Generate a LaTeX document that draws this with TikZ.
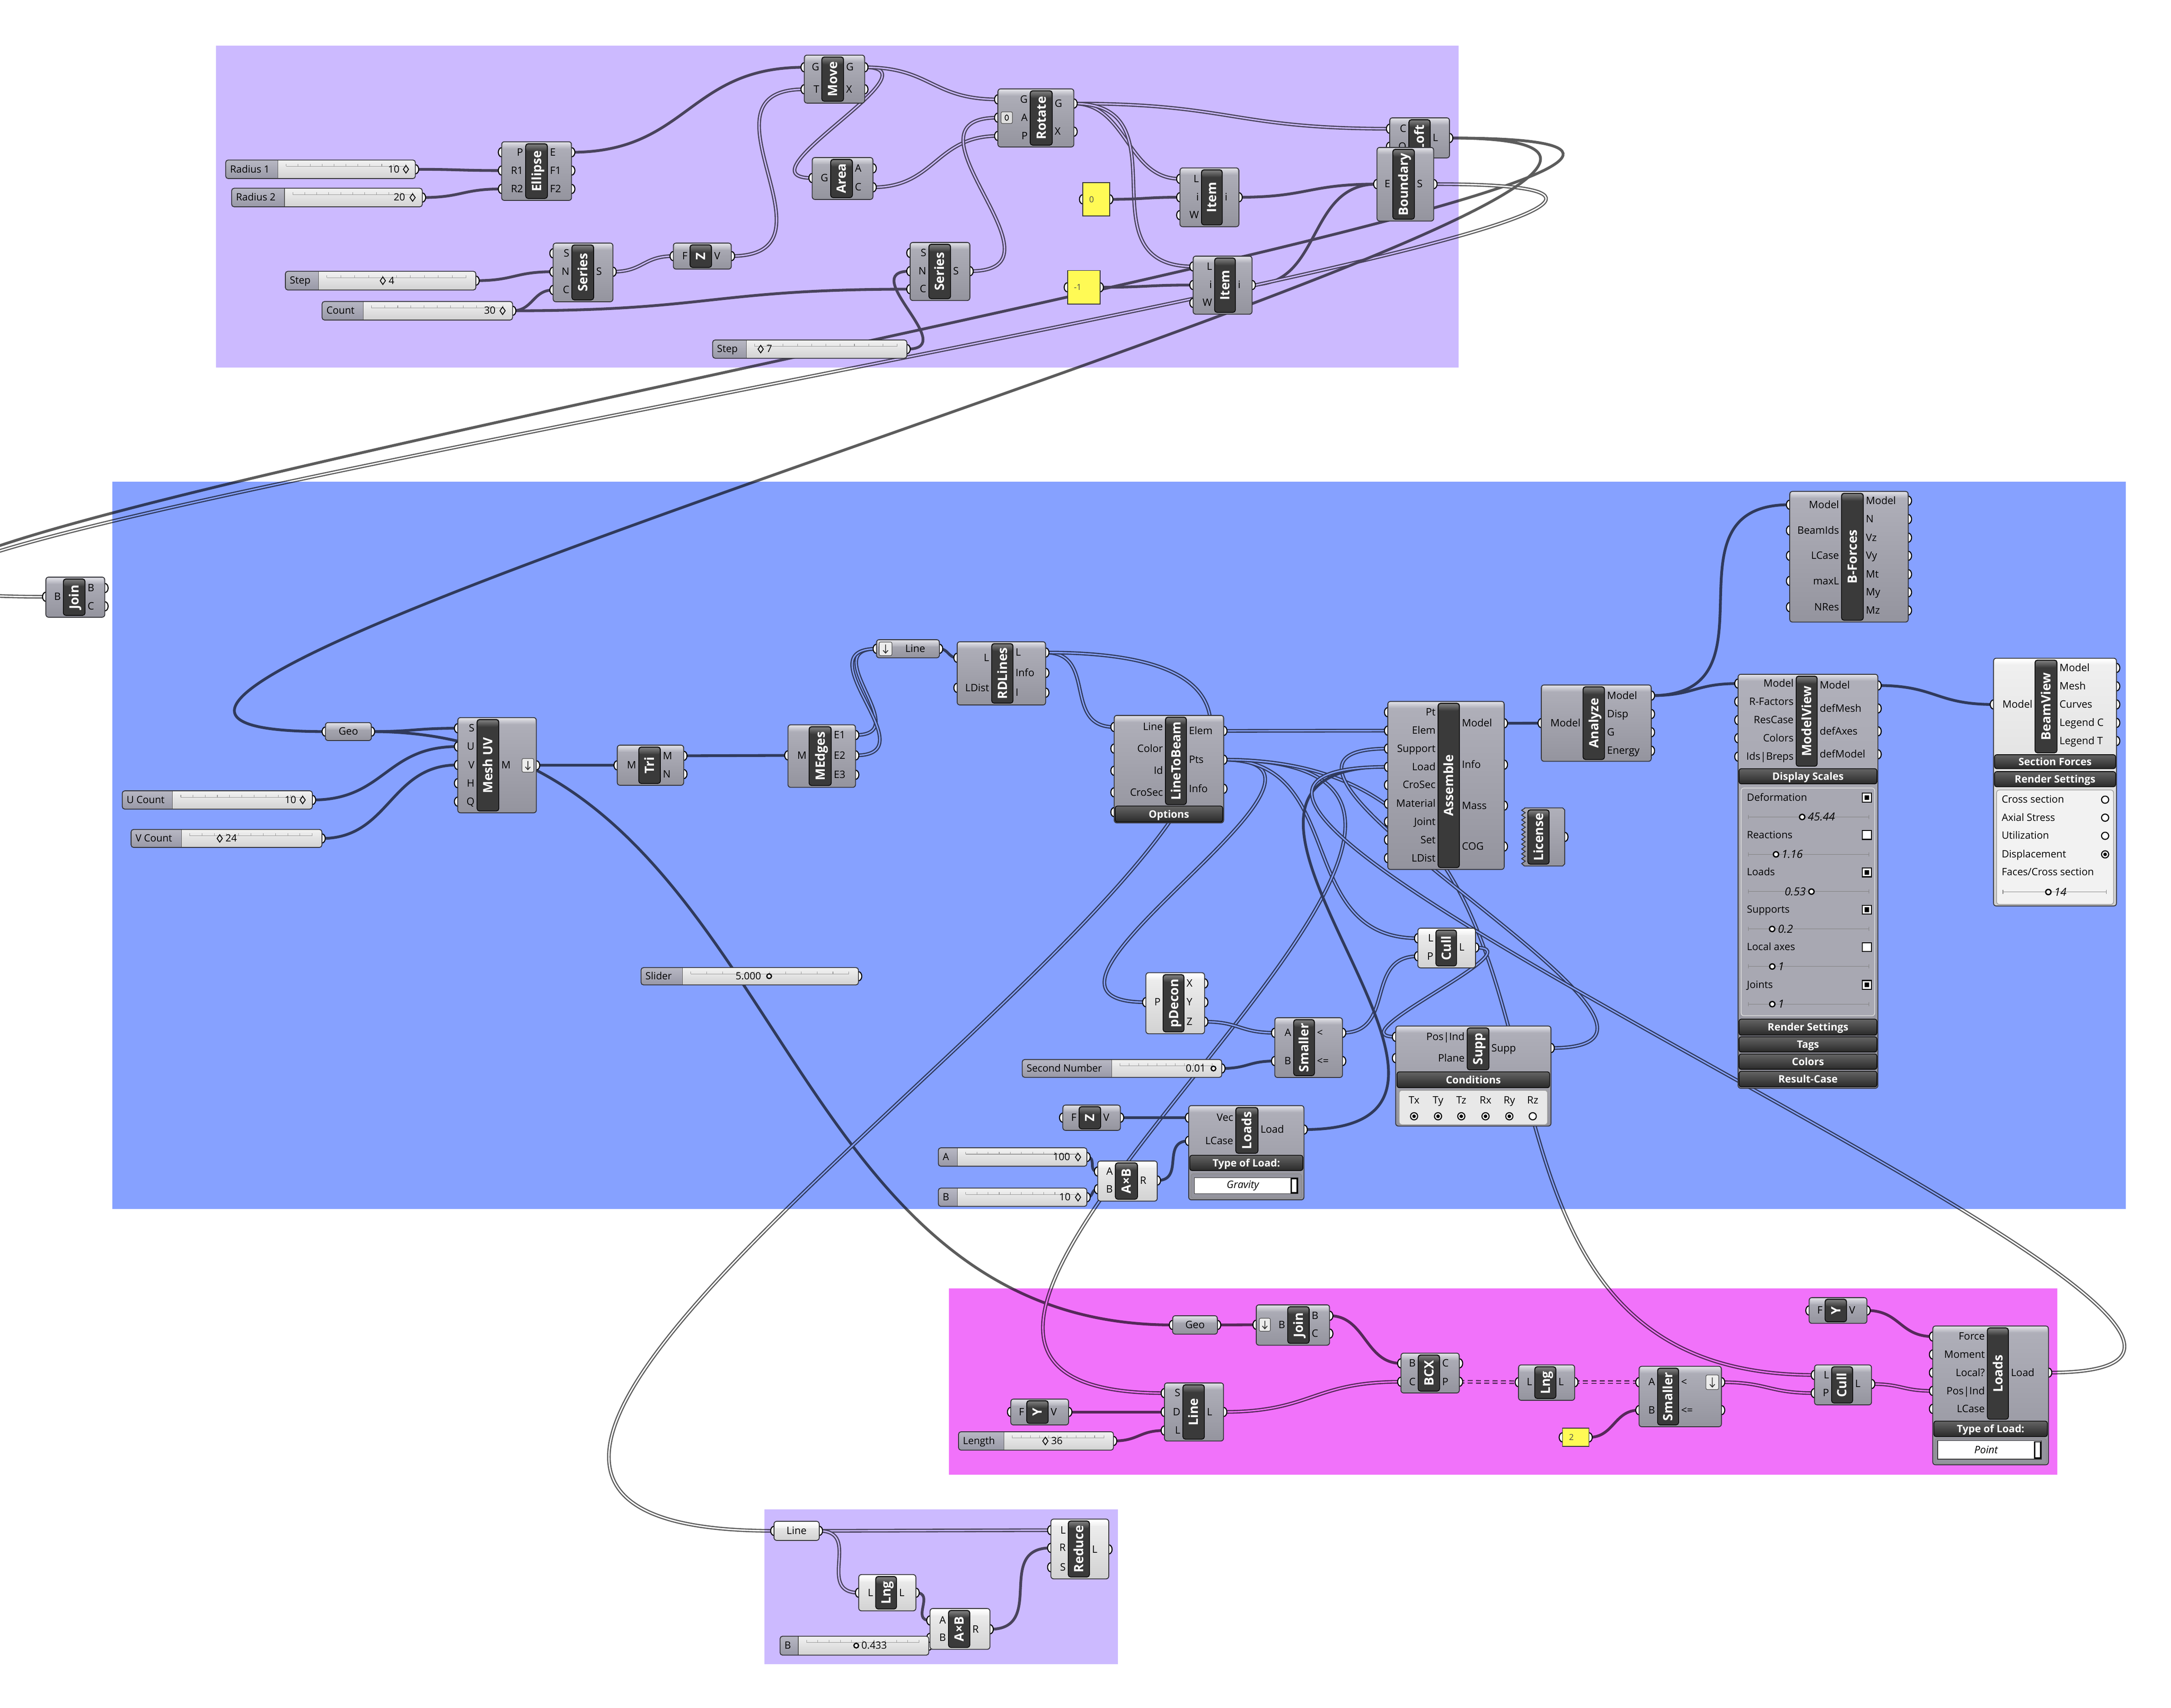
\documentclass[tikz,border=0pt]{standalone}
\usepackage{fontspec}
\setmainfont{Open Sans}
\usetikzlibrary{calc}
\pgfdeclarelayer{back}
\pgfdeclarelayer{wires}
\pgfdeclarelayer{groups}
\pgfdeclarelayer{ports}
\pgfsetlayers{back,wires,groups,ports,main}

\definecolor{grpPurple}{RGB}{204,186,255}
\definecolor{grpBlue}{RGB}{134,161,255}
\definecolor{grpPink}{RGB}{241,114,250}
\definecolor{wireC}{RGB}{92,92,92}
\definecolor{bodyHi}{RGB}{222,222,228}
\definecolor{bodyT}{RGB}{176,176,186}
\definecolor{bodyB}{RGB}{148,148,158}
\definecolor{lbodyHi}{RGB}{255,255,255}
\definecolor{lbodyT}{RGB}{240,240,240}
\definecolor{lbodyB}{RGB}{210,210,210}
\definecolor{stripT}{RGB}{125,125,125}
\definecolor{stripC}{RGB}{58,58,58}
\definecolor{barT}{RGB}{100,100,100}
\definecolor{barB}{RGB}{42,42,42}
\definecolor{edgeC}{RGB}{50,50,54}
\definecolor{slLabT}{RGB}{184,184,196}
\definecolor{slLabB}{RGB}{152,152,166}
\definecolor{slTrT}{RGB}{242,242,242}
\definecolor{slTrB}{RGB}{210,210,210}
\definecolor{panelY}{RGB}{255,250,85}
\definecolor{tickC}{RGB}{150,150,150}

\tikzset{
 plab/.style={font=\fontsize{7.4}{8}\selectfont, inner sep=0pt, text height=5.6pt, text depth=0.6pt},
 nmtxt/.style={font=\bfseries\fontsize{9.3}{10}\selectfont, text=white, inner sep=0pt, rotate=90, text height=6.7pt, text depth=0pt},
 bartxt/.style={font=\bfseries\fontsize{7.4}{8}\selectfont, text=white, inner sep=0pt, text height=5.4pt, text depth=0pt},
 sltxt/.style={font=\fontsize{7.2}{8}\selectfont, inner sep=0pt, text height=5.4pt, text depth=0.6pt},
 mvtxt/.style={font=\fontsize{7.3}{8}\selectfont, inner sep=0pt, anchor=west, text height=5.4pt, text depth=0.6pt},
 vitxt/.style={font=\itshape\fontsize{8}{8}\selectfont, inner sep=0pt, text height=5.6pt, text depth=0pt},
 wS/.style={draw=wireC, line width=2pt},
 wD/.style={draw=wireC, line width=0.85pt, double=white, double distance=0.95pt},
 wT/.style={wD, dash pattern=on 3.6pt off 2.4pt},
 bodyedge/.style={draw=edgeC, line width=0.6pt},
}

\newcommand\gbody[4]{%
  \shade[rounded corners=2pt,top color=bodyT,bottom color=bodyB] ({#1},{#2}) rectangle ({#3},{#4});%
  \shade[top color=bodyHi,bottom color=bodyT] ({#1+0.9},{#2+0.7}) rectangle ({#3-0.9},{#2+4.8});%
  \draw[bodyedge,rounded corners=2pt] ({#1},{#2}) rectangle ({#3},{#4});}
\newcommand\lbody[4]{%
  \shade[rounded corners=2pt,top color=lbodyT,bottom color=lbodyB] ({#1},{#2}) rectangle ({#3},{#4});%
  \shade[top color=lbodyHi,bottom color=lbodyT] ({#1+0.9},{#2+0.7}) rectangle ({#3-0.9},{#2+4.8});%
  \draw[bodyedge,rounded corners=2pt] ({#1},{#2}) rectangle ({#3},{#4});}
\newcommand\gstrip[5]{%
  \gdef\StripL{#1}\gdef\StripR{#3}%
  \fill[stripC,rounded corners=1.8pt] ({#1},{#2}) rectangle ({#3},{#4});%
  \shade[top color=stripT,bottom color=stripC,rounded corners=1.4pt] ({#1+0.6},{#2+0.6}) rectangle ({#3-0.6},{#2+5.5});%
  \draw[black,line width=0.5pt,rounded corners=1.8pt] ({#1},{#2}) rectangle ({#3},{#4});%
  \node[nmtxt] at ({(#1+#3)/2},{(#2+#4)/2}) {#5};}
\newcommand\pglyph[2]{\begin{pgfonlayer}{ports}\filldraw[fill=white,draw=black,line width=0.75pt] ({#1},{#2}) ellipse [x radius=2.4pt, y radius=3.3pt];\end{pgfonlayer}}
\newcommand\inp[4]{\coordinate (#1) at ({#2},{#3});\pglyph{#2}{#3}\node[plab,anchor=east] at ({\StripL-1.6},{#3}) {#4};}
\newcommand\outp[4]{\coordinate (#1) at ({#2},{#3});\pglyph{#2}{#3}\node[plab,anchor=west] at ({\StripR+1.6},{#3}) {#4};}
\newcommand\gbar[5]{%
  \shade[rounded corners=1.5pt,top color=barT,bottom color=barB] ({#1},{#2}) rectangle ({#3},{#4});%
  \draw[black,line width=0.5pt,rounded corners=1.5pt] ({#1},{#2}) rectangle ({#3},{#4});%
  \node[bartxt] at ({(#1+#3)/2},{(#2+#4)/2}) {#5};}
\newcommand\gslider[7]{%
  \begin{scope}
  \clip[rounded corners=1.8pt] ({#2},{#3}) rectangle ({#4},{#5});
  \shade[top color=slTrT,bottom color=slTrB] ({#2},{#3}) rectangle ({#4},{#5});
  \shade[top color=slLabT,bottom color=slLabB] ({#2},{#3}) rectangle ({#6},{#5});
  \end{scope}
  \draw[black!65,line width=0.4pt] ({#6},{#3}) -- ({#6},{#5});
  \draw[bodyedge,rounded corners=1.8pt] ({#2},{#3}) rectangle ({#4},{#5});
  \draw[tickC,line width=0.35pt] ({#6+6},{#3+4.6}) -- ({#4-7},{#3+4.6});
  \foreach \k in {0,...,10} \draw[tickC,line width=0.35pt] ({#6+6+\k*(#4-#6-13)/10},{#3+4.6}) -- ++(0,-1.8);
  \node[sltxt,anchor=west] at ({#2+3},{(#3+#5)/2}) {#7};
  \coordinate (#1) at ({#4},{(#3+#5)/2});
  \pglyph{#4}{(#3+#5)/2}}
\newcommand\sval[3]{\node[sltxt] at ({#1},{#2}) {#3};}
\newcommand\sdia[2]{\draw[black,line width=0.6pt] ({#1},{#2-2.7}) -- ({#1+1.9},{#2}) -- ({#1},{#2+2.7}) -- ({#1-1.9},{#2}) -- cycle;}
\newcommand\sknob[2]{\draw[black,line width=0.9pt,fill=white] ({#1},{#2}) circle (1.7pt);}
\newcommand\ypanel[6]{%
  \fill[panelY] ({#2},{#3}) rectangle ({#4},{#5});
  \draw[bodyedge] ({#2},{#3}) rectangle ({#4},{#5});
  \node[font=\fontsize{6}{6}\selectfont,inner sep=0pt,anchor=west,text=black!70] at ({#2+4.5},{(#3+#5)/2}) {#6};
  \coordinate (#1-i) at ({#2},{(#3+#5)/2});\coordinate (#1-o) at ({#4},{(#3+#5)/2});
  \pglyph{#2}{(#3+#5)/2}\pglyph{#4}{(#3+#5)/2}}
\newcommand\gparam[7]{\gbody{#2}{#3}{#4}{#5}\node[plab] at ({#7},{(#3+#5)/2}) {#6};%
  \coordinate (#1-i) at ({#2},{(#3+#5)/2});\coordinate (#1-o) at ({#4},{(#3+#5)/2});%
  \pglyph{#2}{(#3+#5)/2}\pglyph{#4}{(#3+#5)/2}}
\newcommand\lparam[7]{\lbody{#2}{#3}{#4}{#5}\node[plab] at ({#7},{(#3+#5)/2}) {#6};%
  \coordinate (#1-i) at ({#2},{(#3+#5)/2});\coordinate (#1-o) at ({#4},{(#3+#5)/2});%
  \pglyph{#2}{(#3+#5)/2}\pglyph{#4}{(#3+#5)/2}}
\newcommand\dicon[4]{\draw[fill=white!85!gray,draw=black!70,line width=0.4pt,rounded corners=1pt] ({#1},{#2}) rectangle ({#3},{#4});%
  \draw[black!80,line width=0.6pt] ({(#1+#3)/2},{#2+1.8}) -- ({(#1+#3)/2},{#4-1.8}) ({(#1+#3)/2-1.8},{#4-3.8}) -- ({(#1+#3)/2},{#4-1.8}) -- ({(#1+#3)/2+1.8},{#4-3.8});}
\newcommand\gchk[3]{\draw[black,line width=0.75pt,fill=white] ({#1-3.2},{#2-3.2}) rectangle ({#1+3.2},{#2+3.2});\ifnum#3=1 \fill[black] ({#1-1.7},{#2-1.7}) rectangle ({#1+1.7},{#2+1.7});\fi}
\newcommand\gradio[3]{\draw[black,line width=0.75pt,fill=white] ({#1},{#2}) circle (2.6pt);\ifnum#3=1 \fill[black] ({#1},{#2}) circle (1.3pt);\fi}
\newcommand\msl[4]{\draw[black!50,line width=0.4pt] ({#1},{#3}) -- ({#2},{#3}) ({#1},{#3-1.5}) -- ({#1},{#3+1.5}) ({#2},{#3-1.5}) -- ({#2},{#3+1.5});%
  \draw[black,line width=0.95pt,fill=white] ({#4},{#3}) circle (1.9pt);}
\newcommand\ddown[5]{\draw[fill=white,draw=black!80,line width=0.5pt] ({#1},{#2}) rectangle ({#3},{#4});%
  \draw[fill=white,draw=black,line width=0.8pt] ({#3-5},{#2+0.8}) rectangle ({#3-0.7},{#4-0.8});%
  \node[font=\itshape\fontsize{7.4}{8}\selectfont,inner sep=0pt] at ({(#1+#3-5)/2},{(#2+#4)/2}) {#5};}
\def\autostr{auto}
\newcommand\wire[4][auto]{\def\wtmp{#1}\ifx\wtmp\autostr
  \draw[#2] let \p1=(#3), \p2=(#4), \n1={max(0.5*abs(\x2-\x1),0.7*abs(\y2-\y1),5)} in (\p1) .. controls +(\n1,0) and +(-\n1,0) .. (\p2);%
  \else\draw[#2] (#3) .. controls +(#1,0) and +(-#1,0) .. (#4);\fi}

\begin{document}
\begin{tikzpicture}[x=1pt,y=-1pt]
\begin{pgfonlayer}{back}\fill[white] (0,0) rectangle (1568,1233.6);\end{pgfonlayer}
\useasboundingbox (0,0) rectangle (1568,1233.6);

% ================= TOP GROUP =================
\gslider{r1}{163}{115.6}{300}{129}{200.7}{Radius 1}
\sval{284.4}{122.3}{10}\sdia{293.2}{122.3}
\gslider{r2}{167.3}{136}{305}{149.4}{205.5}{Radius 2}
\sval{288.5}{142.7}{20}\sdia{298}{142.7}

\gbody{362.3}{102.4}{412.8}{144.8}
\gstrip{379.6}{103.8}{395.4}{143.4}{Ellipse}
\inp{ell-iP}{362.3}{110}{P}\inp{ell-iR1}{362.3}{123.2}{R1}\inp{ell-iR2}{362.3}{136.5}{R2}
\outp{ell-oE}{412.8}{110}{E}\outp{ell-oF1}{412.8}{123.2}{F1}\outp{ell-oF2}{412.8}{136.5}{F2}

\gbody{580.9}{39.8}{624.5}{74.5}
\gstrip{593.5}{41.1}{609.3}{73.2}{Move}
\inp{mov-iG}{580.9}{48.6}{G}\inp{mov-iT}{580.9}{64.5}{T}
\outp{mov-oG}{624.5}{48.6}{G}\outp{mov-oX}{624.5}{64.5}{X}

\gbody{586.6}{113.8}{630.5}{144.1}
\gstrip{599.9}{115.1}{615.7}{142.8}{Area}
\inp{area-iG}{586.6}{128.6}{G}
\outp{area-oA}{630.5}{121.6}{A}\outp{area-oC}{630.5}{135.3}{C}

\gbody{720.7}{64.2}{775.6}{106.2}
\gstrip{744}{65.5}{760}{104.9}{Rotate}
\inp{rot-iG}{720.7}{71.8}{G}\inp{rot-iA}{720.7}{85}{A}\inp{rot-iP}{720.7}{98.2}{P}
\outp{rot-oG}{775.6}{74.8}{G}\outp{rot-oX}{775.6}{95.1}{X}
\draw[fill=gray!25,draw=black!70,rounded corners=1pt,line width=0.4pt] (723,80.8) rectangle (731.2,89.2);
\draw[line width=0.5pt] (727.1,85) ellipse [x radius=1.2pt, y radius=2pt];

\gbody{399.5}{175.6}{442.7}{218}
\gstrip{413}{176.9}{428.8}{216.7}{Series}
\inp{serL-iS}{399.5}{183}{S}\inp{serL-iN}{399.5}{196.3}{N}\inp{serL-iC}{399.5}{209.5}{C}
\outp{serL-oS}{442.7}{196.3}{S}

\gbody{486.3}{175.6}{528.2}{194.4}
\gstrip{498.3}{176.8}{514}{193.2}{Z}
\inp{zt-iF}{486.3}{185}{F}\outp{zt-oV}{528.2}{185}{V}

\gslider{st4}{206.1}{196}{343.7}{209.5}{230.1}{Step}
\sdia{276.5}{202.8}\node[sltxt,anchor=west] at (280.5,202.8) {4};
\gslider{cnt}{232.6}{217.8}{370.2}{231.2}{262.3}{Count}
\sval{353.8}{224.5}{30}\sdia{363}{224.5}

\gbody{657.3}{175.1}{700.5}{217.1}
\gstrip{670.8}{176.4}{686.6}{215.8}{Series}
\inp{serR-iS}{657.3}{182.7}{S}\inp{serR-iN}{657.3}{195.9}{N}\inp{serR-iC}{657.3}{208.9}{C}
\outp{serR-oS}{700.5}{195.9}{S}

\gslider{st7}{514.7}{245.6}{655}{258.8}{539}{Step}
\sdia{549.4}{252.2}\node[sltxt,anchor=west] at (553.4,252.2) {7};

\ypanel{p0}{782}{132}{801.4}{156}{0}
\ypanel{pm1}{771}{195.4}{794.5}{219.7}{-1}

\gbody{852.2}{121.3}{894.8}{163.8}
\gstrip{867.7}{122.6}{882.8}{162.5}{Item}
\inp{itT-iL}{852.2}{129.2}{L}\inp{itT-ii}{852.2}{142.5}{i}\inp{itT-iW}{852.2}{155.4}{W}
\outp{itT-oi}{894.8}{142.5}{i}
\gbody{861.7}{185}{904.3}{227}
\gstrip{877.2}{186.3}{892.3}{225.7}{Item}
\inp{itB-iL}{861.7}{192.5}{L}\inp{itB-ii}{861.7}{205.9}{i}\inp{itB-iW}{861.7}{218.8}{W}
\outp{itB-oi}{904.3}{205.9}{i}

\gbody{1003.7}{85.1}{1046.9}{114.1}
\gstrip{1017.5}{86.4}{1033}{112.8}{Loft}
\inp{loft-iC}{1003.7}{93}{C}\inp{loft-iO}{1003.7}{106}{O}
\outp{loft-oL}{1046.9}{99.7}{L}
\gbody{994.5}{106.5}{1035.5}{159.7}
\gstrip{1005.9}{107.8}{1021.6}{158.4}{Boundary}
\inp{bnd-iE}{994.5}{133}{E}\outp{bnd-oS}{1035.5}{133}{S}

% ================= BLUE GROUP =================
\gbody{33.1}{416.9}{75.7}{445.9}
\gstrip{45.7}{418.2}{61.5}{444.6}{Join}
\inp{join-iB}{33.1}{431.1}{B}
\outp{join-oB}{75.7}{424.8}{B}\outp{join-oC}{75.7}{438}{C}

\gparam{geo}{235}{522}{268.2}{535}{Geo}{251.6}

\gbody{330.6}{518.4}{387.4}{587.2}
\gstrip{344.5}{519.7}{360.3}{585.9}{Mesh UV}
\inp{msh-iS}{330.6}{526.1}{S}\inp{msh-iU}{330.6}{539.3}{U}\inp{msh-iV}{330.6}{552.6}{V}\inp{msh-iH}{330.6}{565.8}{H}\inp{msh-iQ}{330.6}{579.1}{Q}
\outp{msh-oM}{387.4}{552.9}{M}
\dicon{377}{548}{385.5}{557.8}

\gslider{uc}{88.3}{571.3}{225.6}{584.5}{124.6}{U Count}
\sval{209.8}{577.9}{10}\sdia{218.6}{577.9}
\gslider{vc}{94.7}{599.2}{232.5}{612.2}{131}{V Count}
\sdia{158.7}{605.7}\node[sltxt,anchor=west] at (162.7,605.7) {24};

\gbody{445.8}{538.3}{493.8}{567.3}
\gstrip{461.3}{539.6}{477}{566}{Tri}
\inp{tri-iM}{445.8}{552.9}{M}
\outp{tri-oM}{493.8}{546}{M}\outp{tri-oN}{493.8}{559.2}{N}

\gbody{569.1}{523.6}{617.9}{568.8}
\gstrip{584.3}{524.9}{600.4}{567.5}{MEdges}
\inp{med-iM}{569.1}{545.7}{M}
\outp{med-oE1}{617.9}{531}{E1}\outp{med-oE2}{617.9}{545.7}{E2}\outp{med-oE3}{617.9}{559.7}{E3}

\gbody{633}{462.1}{678.5}{475.2}
\dicon{635}{463.8}{644.2}{473.6}
\node[plab] at (661,468.7) {Line};
\coordinate (lnp-i) at (633,468.7);\coordinate (lnp-o) at (678.5,468.7);
\pglyph{633}{468.7}\pglyph{678.5}{468.7}

\gbody{691.3}{463.6}{755.2}{509.3}
\gstrip{716.2}{464.9}{731.7}{508}{RDLines}
\inp{rdl-iL}{691.3}{475.2}{L}\inp{rdl-iLD}{691.3}{496.9}{LDist}
\outp{rdl-oL}{755.2}{471.4}{L}\outp{rdl-oInfo}{755.2}{486.1}{Info}\outp{rdl-oI}{755.2}{500.4}{I}

\gbody{804.7}{516.8}{883.8}{594.5}
\gstrip{841.7}{518}{856.9}{581.3}{LineToBeam}
\gbar{805.4}{582.3}{883.1}{593.9}{Options}
\inp{ltb-iLine}{804.7}{525.2}{Line}\inp{ltb-iColor}{804.7}{540.8}{Color}\inp{ltb-iId}{804.7}{556.8}{Id}\inp{ltb-iCro}{804.7}{572.4}{CroSec}\inp{ltb-iOpt}{804.7}{586.7}{}
\outp{ltb-oElem}{883.8}{528}{Elem}\outp{ltb-oPts}{883.8}{548.8}{Pts}\outp{ltb-oInfo}{883.8}{569.8}{Info}

\gbody{1002.3}{506.7}{1086.4}{628.1}
\gstrip{1038.6}{508}{1054.1}{626.8}{Assemble}
\inp{asm-iPt}{1002.3}{514.5}{Pt}\inp{asm-iElem}{1002.3}{527.8}{Elem}\inp{asm-iSup}{1002.3}{540.8}{Support}\inp{asm-iLoad}{1002.3}{554}{Load}\inp{asm-iCro}{1002.3}{567.1}{CroSec}\inp{asm-iMat}{1002.3}{580.6}{Material}\inp{asm-iJoint}{1002.3}{593.6}{Joint}\inp{asm-iSet}{1002.3}{606.7}{Set}\inp{asm-iLD}{1002.3}{619.9}{LDist}
\outp{asm-oModel}{1086.4}{522.5}{Model}\outp{asm-oInfo}{1086.4}{552.4}{Info}\outp{asm-oMass}{1086.4}{582}{Mass}\outp{asm-oCOG}{1086.4}{611.5}{COG}

\gbody{1113.2}{494.8}{1192.6}{550}
\gstrip{1143.3}{496.1}{1158.9}{548.7}{Analyze}
\inp{anl-iM}{1113.2}{522.4}{Model}
\outp{anl-oModel}{1192.6}{502.5}{Model}\outp{anl-oDisp}{1192.6}{515.8}{Disp}\outp{anl-oG}{1192.6}{529}{G}\outp{anl-oE}{1192.6}{542.3}{Energy}

\shadedraw[top color=bodyT,bottom color=bodyB,draw=edgeC,line width=0.6pt] (1101,583.6) -- (1128.6,583.6) -- (1130.1,585.1) -- (1130.1,624.1) -- (1128.6,625.6) -- (1101,625.6) \foreach \j in {0,...,11} { -- (1099,{625.6-\j*3.5-1.75}) -- (1101.6,{625.6-(\j+1)*3.5}) } -- cycle;
\gstrip{1103.4}{585}{1118.9}{624.3}{License}
\pglyph{1130.1}{604.6}

\gbody{1292.6}{355}{1378.2}{449.4}
\gstrip{1330}{356.3}{1345.8}{448.1}{B-Forces}
\inp{bf-iModel}{1292.6}{364.6}{Model}\inp{bf-iB}{1292.6}{383.2}{BeamIds}\inp{bf-iL}{1292.6}{401.5}{LCase}\inp{bf-iM}{1292.6}{419.7}{maxL}\inp{bf-iN}{1292.6}{438.6}{NRes}
\outp{bf-oModel}{1378.2}{361.7}{Model}\outp{bf-oN}{1378.2}{375}{N}\outp{bf-oVz}{1378.2}{388.4}{Vz}\outp{bf-oVy}{1378.2}{401.5}{Vy}\outp{bf-oMt}{1378.2}{414.8}{Mt}\outp{bf-oMy}{1378.2}{427.9}{My}\outp{bf-oMz}{1378.2}{441}{Mz}

\gbody{1255.3}{487.1}{1356.3}{786.2}
\gstrip{1297.2}{488.4}{1312.5}{553.6}{ModelView}
\gbar{1256}{555.3}{1355.6}{566.3}{Display Scales}
\draw[white!70!gray,line width=0.6pt,rounded corners=2pt,fill=bodyT!70!bodyB] (1257.5,569.3) rectangle (1354,733.8);
\gbar{1256}{736.2}{1355.6}{747.8}{Render Settings}
\gbar{1256}{749}{1355.6}{760}{Tags}
\gbar{1256}{761.4}{1355.6}{772.5}{Colors}
\gbar{1256}{773.9}{1355.6}{785.2}{Result-Case}
\inp{mv-iModel}{1255.3}{493.8}{Model}\inp{mv-iR}{1255.3}{506.8}{R-Factors}\inp{mv-iRC}{1255.3}{520.2}{ResCase}\inp{mv-iC}{1255.3}{533.3}{Colors}\inp{mv-iI}{1255.3}{546.6}{Ids|Breps}
\outp{mv-oModel}{1356.3}{495.2}{Model}\outp{mv-oM}{1356.3}{511.8}{defMesh}\outp{mv-oA}{1356.3}{528.3}{defAxes}\outp{mv-oD}{1356.3}{544.9}{defModel}
\node[mvtxt] at (1261.5,576.2) {Deformation}; \gchk{1348.3}{576.2}{1}
\msl{1262.7}{1349.8}{590.2}{1301.6}\node[vitxt,anchor=west] at (1305.5,590.2) {45.44};
\node[mvtxt] at (1261.5,603.2) {Reactions}; \gchk{1348.3}{603.2}{0}
\msl{1262.7}{1349.8}{617.2}{1282.7}\node[vitxt,anchor=west] at (1286.6,617.2) {1.16};
\node[mvtxt] at (1261.5,630.2) {Loads}; \gchk{1348.3}{630.2}{1}
\msl{1262.7}{1349.8}{644.1}{1308.3}\node[vitxt,anchor=east] at (1304.4,644.1) {0.53};
\node[mvtxt] at (1261.5,657.2) {Supports}; \gchk{1348.3}{657.2}{1}
\msl{1262.7}{1349.8}{671.1}{1279.9}\node[vitxt,anchor=west] at (1283.9,671.1) {0.2};
\node[mvtxt] at (1261.5,684.2) {Local axes}; \gchk{1348.3}{684.2}{0}
\msl{1262.7}{1349.8}{698.2}{1280}\node[vitxt,anchor=west] at (1284,698.2) {1};
\node[mvtxt] at (1261.5,711.5) {Joints}; \gchk{1348.3}{711.5}{1}
\msl{1262.7}{1349.8}{725.4}{1280}\node[vitxt,anchor=west] at (1284,725.4) {1};

\lbody{1439.8}{475.5}{1528.6}{654.5}
\gstrip{1469.7}{476.8}{1485.7}{543.9}{BeamView}
\gbar{1440.5}{545.2}{1528}{555.3}{Section Forces}
\gbar{1440.5}{557.4}{1528}{568.4}{Render Settings}
\draw[gray!70,line width=0.6pt,rounded corners=2pt,fill=white!90!gray] (1442,570.7) rectangle (1526.5,653.4);
\inp{bv-iModel}{1439.8}{508.9}{Model}
\outp{bv-oModel}{1528.6}{482.5}{Model}\outp{bv-oMesh}{1528.6}{495.8}{Mesh}\outp{bv-oC}{1528.6}{508.9}{Curves}\outp{bv-oLC}{1528.6}{522.2}{Legend C}\outp{bv-oLT}{1528.6}{535.3}{Legend T}
\node[mvtxt] at (1445.5,577.7) {Cross section}; \gradio{1520.4}{577.7}{0}
\node[mvtxt] at (1445.5,590.7) {Axial Stress}; \gradio{1520.4}{590.7}{0}
\node[mvtxt] at (1445.5,603.8) {Utilization}; \gradio{1520.4}{603.8}{0}
\node[mvtxt] at (1445.5,617.2) {Displacement}; \gradio{1520.4}{617.2}{1}
\node[mvtxt] at (1445.5,630.2) {Faces/Cross section};
\msl{1446.6}{1521.3}{644.4}{1479.4}\node[vitxt,anchor=west] at (1483.5,644.4) {14};

\lbody{1024}{670.5}{1065.7}{699.2}
\gstrip{1037}{671.8}{1052}{697.9}{Cull}
\inp{cul-iL}{1024}{677.8}{L}\inp{cul-iP}{1024}{690.8}{P}\outp{cul-oL}{1065.7}{684.5}{L}

\lbody{827.6}{702.7}{870}{746.8}
\gstrip{840}{704}{855.2}{745.5}{pDecon}
\inp{pdc-iP}{827.6}{724}{P}
\outp{pdc-oX}{870}{710.4}{X}\outp{pdc-oY}{870}{724}{Y}\outp{pdc-oZ}{870}{738.1}{Z}

\gbody{920.7}{735.2}{969.6}{778.4}
\gstrip{934.3}{736.5}{949.4}{777.1}{Smaller}
\inp{sml-iA}{920.7}{746.1}{A}\inp{sml-iB}{920.7}{766.5}{B}
\outp{sml-oLT}{969.6}{746.1}{<}\outp{sml-oLE}{969.6}{766.5}{<=}

\gslider{sn}{738.3}{765.4}{882.4}{778.3}{803}{Second Number}
\sval{863.6}{771.9}{0.01}\sknob{876.4}{771.9}

\gbody{1008}{741.2}{1120.2}{813.5}
\gstrip{1059.6}{742.5}{1075.4}{772.9}{Supp}
\gbar{1009}{774.3}{1119.2}{785.8}{Conditions}
\draw[gray!75,line width=0.6pt,rounded corners=2pt,fill=white!82!gray] (1010.5,787.6) rectangle (1117.7,812.5);
\inp{supp-iPos}{1008}{749}{Pos|Ind}\inp{supp-iPl}{1008}{764.4}{Plane}
\outp{supp-oS}{1120.2}{757.1}{Supp}
\foreach \xx/\tt/\ff in {1021.3/Tx/1,1038.6/Ty/1,1055.4/Tz/1,1072.9/Rx/1,1090.1/Ry/1,1107/Rz/0}{
  \node[plab] at (\xx,794.7) {\tt};
  \gradio{\xx}{806.4}{\ff}}

\gslider{sl5}{463}{699}{620}{711.5}{493}{Slider}
\sval{540.5}{705.2}{5.000}\sknob{555.5}{705.2}

\gbody{767.6}{798.3}{809.2}{816.6}
\gstrip{779.3}{799.4}{795}{815.5}{Z}
\inp{zb-iF}{767.6}{807.4}{F}\outp{zb-oV}{809.2}{807.4}{V}

\gbody{858.5}{798.7}{941.8}{866.8}
\gstrip{892.5}{800}{908.6}{833.2}{Loads}
\gbar{859.3}{834.6}{941}{845.6}{Type of Load:}
\draw[fill=bodyB,draw=black!45,line width=0.5pt,rounded corners=1.5pt] (860.3,847.9) rectangle (940,865.6);
\ddown{862.6}{850.7}{937.6}{862.4}{Gravity}
\inp{lds-iVec}{858.5}{807.4}{Vec}\inp{lds-iLC}{858.5}{824.2}{LCase}
\outp{lds-oL}{941.8}{816}{Load}

\gslider{sa}{677.7}{829.2}{785}{842.5}{691.5}{A}
\sval{766.7}{835.9}{100}\sdia{778.6}{835.9}
\gslider{sb}{677.7}{858.3}{785}{871.5}{691.5}{B}
\sval{769.1}{864.9}{10}\sdia{778.6}{864.9}

\lbody{792.8}{838.7}{835.8}{867.7}
\gstrip{805.5}{840}{821.6}{866.4}{A×B}
\inp{axb-iA}{792.8}{846.3}{A}\inp{axb-iB}{792.8}{859.1}{B}\outp{axb-oR}{835.8}{852.8}{R}

% ================= PINK GROUP =================
\gparam{pgeo}{846.9}{950.5}{879.3}{963.8}{Geo}{863.1}

\gbody{907.3}{942.6}{960.3}{971.8}
\gstrip{930}{943.9}{945.6}{970.5}{Join}
\dicon{909.5}{952.3}{917.5}{961.7}
\inp{pj-iB}{907.3}{957}{B}
\outp{pj-oB}{960.3}{950.5}{B}\outp{pj-oC}{960.3}{963.4}{C}

\gbody{1011.8}{977.5}{1054}{1006.3}
\gstrip{1024.2}{978.8}{1039.8}{1005}{BCX}
\inp{bcx-iB}{1011.8}{984.9}{B}\inp{bcx-iC}{1011.8}{998.2}{C}
\outp{bcx-oC}{1054}{984.9}{C}\outp{bcx-oP}{1054}{998.2}{P}

\gbody{1096.7}{986}{1137.3}{1011.6}
\gstrip{1108.4}{987.3}{1123.8}{1010.3}{Lng}
\inp{lng-iL}{1096.7}{998.5}{L}\outp{lng-oL}{1137.3}{998.5}{L}

\gbody{730}{1010.7}{771.8}{1029.4}
\gstrip{741.5}{1011.8}{757.1}{1028.3}{Y}
\inp{ypl-iF}{730}{1020}{F}\outp{ypl-oV}{771.8}{1020}{V}

\gbody{841}{999}{883.7}{1041}
\gstrip{854.3}{1000.3}{869.9}{1039.7}{Line}
\inp{lp-iS}{841}{1006.4}{S}\inp{lp-iD}{841}{1020}{D}\inp{lp-iL}{841}{1033.4}{L}
\outp{lp-oL}{883.7}{1020}{L}

\gslider{len}{692.3}{1034.3}{804.2}{1047.6}{725}{Length}
\sdia{755}{1041}\node[sltxt,anchor=west] at (759,1041) {36};

\ypanel{p2}{1128.5}{1031.8}{1147.6}{1044.9}{2}

\gbody{1183.8}{987}{1243.3}{1030.7}
\gstrip{1197.1}{988.3}{1212.4}{1029.4}{Smaller}
\dicon{1232.1}{993.3}{1241.3}{1003.8}
\inp{smp-iA}{1183.8}{998.5}{A}\inp{smp-iB}{1183.8}{1018.7}{B}
\outp{smp-oLT}{1243.3}{998.5}{<}\outp{smp-oLE}{1243.3}{1018.7}{<=}

\gbody{1310.5}{986}{1351.7}{1014.9}
\gstrip{1322.8}{987.3}{1338.1}{1013.6}{Cull}
\inp{cullp-iL}{1310.5}{993.3}{L}\inp{cullp-iP}{1310.5}{1006.4}{P}
\outp{cullp-oL}{1351.7}{999.8}{L}

\gbody{1306.6}{937.4}{1348.4}{956}
\gstrip{1318.1}{938.5}{1333.7}{954.9}{Y}
\inp{ypr-iF}{1306.6}{946.7}{F}\outp{ypr-oV}{1348.4}{946.7}{V}

\gbody{1395.9}{957.9}{1479.5}{1058.2}
\gstrip{1435.3}{959.2}{1450.6}{1025.3}{Loads}
\gbar{1396.7}{1026.6}{1478.7}{1037.8}{Type of Load:}
\draw[fill=bodyB,draw=black!45,line width=0.5pt,rounded corners=1.5pt] (1397.5,1039.3) rectangle (1477.9,1057.3);
\ddown{1399.4}{1040.8}{1474.5}{1054.1}{Point}
\inp{lpk-iF}{1395.9}{965.5}{Force}\inp{lpk-iM}{1395.9}{978.5}{Moment}\inp{lpk-iLoc}{1395.9}{991.6}{Local?}\inp{lpk-iPos}{1395.9}{1004.8}{Pos|Ind}\inp{lpk-iLC}{1395.9}{1017.8}{LCase}
\outp{lpk-oL}{1479.5}{991.6}{Load}

% ================= BOTTOM GROUP =================
\lparam{lnb}{559}{1099}{591.7}{1112.8}{Line}{575.3}

\lbody{620.2}{1137.5}{661.5}{1163.7}
\gstrip{632.4}{1138.8}{647.6}{1162.4}{Lng}
\inp{lngb-iL}{620.2}{1150.6}{L}\outp{lngb-oL}{661.5}{1150.6}{L}

\gslider{sbb}{563.4}{1182}{670.8}{1195.7}{576.5}{B}
\sknob{618.4}{1188.8}\node[sltxt,anchor=west] at (622,1188.8) {0.433};

\lbody{671.7}{1162}{715}{1191.5}
\gstrip{685}{1163.3}{700.5}{1190.2}{A×B}
\inp{axbb-iA}{671.7}{1170.6}{A}\inp{axbb-iB}{671.7}{1183.2}{B}\outp{axbb-oR}{715}{1177}{R}

\lbody{759}{1097.4}{800.8}{1140.6}
\gstrip{771.5}{1098.7}{786.9}{1139.3}{Reduce}
\inp{red-iL}{759}{1105.4}{L}\inp{red-iR}{759}{1118.2}{R}\inp{red-iS}{759}{1132.2}{S}
\outp{red-oL}{800.8}{1119.3}{L}

% ================= GROUPS =================
\begin{pgfonlayer}{groups}
\begin{scope}[blend mode=multiply]
\fill[grpPurple] (156,33) rectangle (1053.5,265.5);
\fill[grpBlue] (81,348) rectangle (1535.2,873.5);
\fill[grpPink] (685.5,930.8) rectangle (1486,1065.2);
\fill[grpPurple] (552,1090.4) rectangle (807.5,1202.3);
\end{scope}
\end{pgfonlayer}

% ================= WIRES =================
\begin{pgfonlayer}{wires}
\wire{wS}{r1}{ell-iR1}
\wire{wS}{r2}{ell-iR2}
\wire{wS}{ell-oE}{mov-iG}
\wire{wD}{zt-oV}{mov-iT}
\wire{wD}{serL-oS}{zt-iF}
\wire{wS}{st4}{serL-iN}
\wire{wS}{cnt}{serL-iC}
\wire{wS}{cnt}{serR-iC}
\wire{wD}{mov-oG}{area-iG}
\wire{wD}{mov-oG}{rot-iG}
\wire{wD}{area-oC}{rot-iP}
\wire{wD}{serR-oS}{rot-iA}
\wire{wS}{st7}{serR-iN}
\wire{wD}{rot-oG}{loft-iC}
\wire{wD}{rot-oG}{itT-iL}
\wire{wD}{rot-oG}{itB-iL}
\wire{wS}{p0-o}{itT-ii}
\wire{wS}{pm1-o}{itB-ii}
\wire{wS}{itT-oi}{bnd-iE}
\wire{wS}{itB-oi}{bnd-iE}
\wire{wS}{loft-oL}{join-iB}
\wire{wD}{bnd-oS}{join-iB}
\wire{wS}{loft-oL}{geo-i}
\wire{wS}{geo-o}{msh-iS}
\wire{wS}{geo-o}{pgeo-i}
\wire{wS}{uc}{msh-iU}
\wire{wS}{vc}{msh-iV}
\wire{wS}{msh-oM}{tri-iM}
\wire{wS}{tri-oM}{med-iM}
\wire{wD}{med-oE1}{lnp-i}
\wire{wD}{med-oE2}{lnp-i}
\wire{wS}{lnp-o}{rdl-iL}
\wire{wD}{rdl-oL}{ltb-iLine}
\wire[480]{wD}{rdl-oL}{lnb-i}
\wire{wD}{ltb-oElem}{asm-iElem}
\wire{wD}{ltb-oPts}{pdc-iP}
\wire{wD}{ltb-oPts}{cul-iL}
\wire{wD}{ltb-oPts}{lp-iS}
\wire{wD}{ltb-oPts}{cullp-iL}
\wire{wD}{pdc-oZ}{sml-iA}
\wire{wS}{sn}{sml-iB}
\wire{wD}{sml-oLT}{cul-iP}
\wire{wD}{cul-oL}{supp-iPos}
\wire{wD}{supp-oS}{asm-iSup}
\wire{wS}{lds-oL}{asm-iLoad}
\wire{wD}{lpk-oL}{asm-iLoad}
\wire{wS}{asm-oModel}{anl-iM}
\wire{wS}{anl-oModel}{mv-iModel}
\wire{wS}{anl-oModel}{bf-iModel}
\wire{wS}{mv-oModel}{bv-iModel}
\wire{wS}{zb-oV}{lds-iVec}
\wire{wS}{sa}{axb-iA}
\wire{wS}{sb}{axb-iB}
\wire{wS}{axb-oR}{lds-iLC}
\wire{wS}{pgeo-o}{pj-iB}
\wire{wS}{pj-oB}{bcx-iB}
\wire{wD}{lp-oL}{bcx-iC}
\wire{wS}{ypl-oV}{lp-iD}
\wire{wS}{len}{lp-iL}
\wire{wT}{bcx-oP}{lng-iL}
\wire{wT}{lng-oL}{smp-iA}
\wire{wS}{p2-o}{smp-iB}
\wire{wD}{smp-oLT}{cullp-iP}
\wire{wD}{cullp-oL}{lpk-iPos}
\wire{wS}{ypr-oV}{lpk-iF}
\wire{wD}{lnb-o}{red-iL}
\wire{wD}{lnb-o}{lngb-iL}
\wire{wS}{lngb-oL}{axbb-iA}
\wire{wS}{sbb}{axbb-iB}
\wire{wS}{axbb-oR}{red-iR}
\end{pgfonlayer}
\end{tikzpicture}
\end{document}
